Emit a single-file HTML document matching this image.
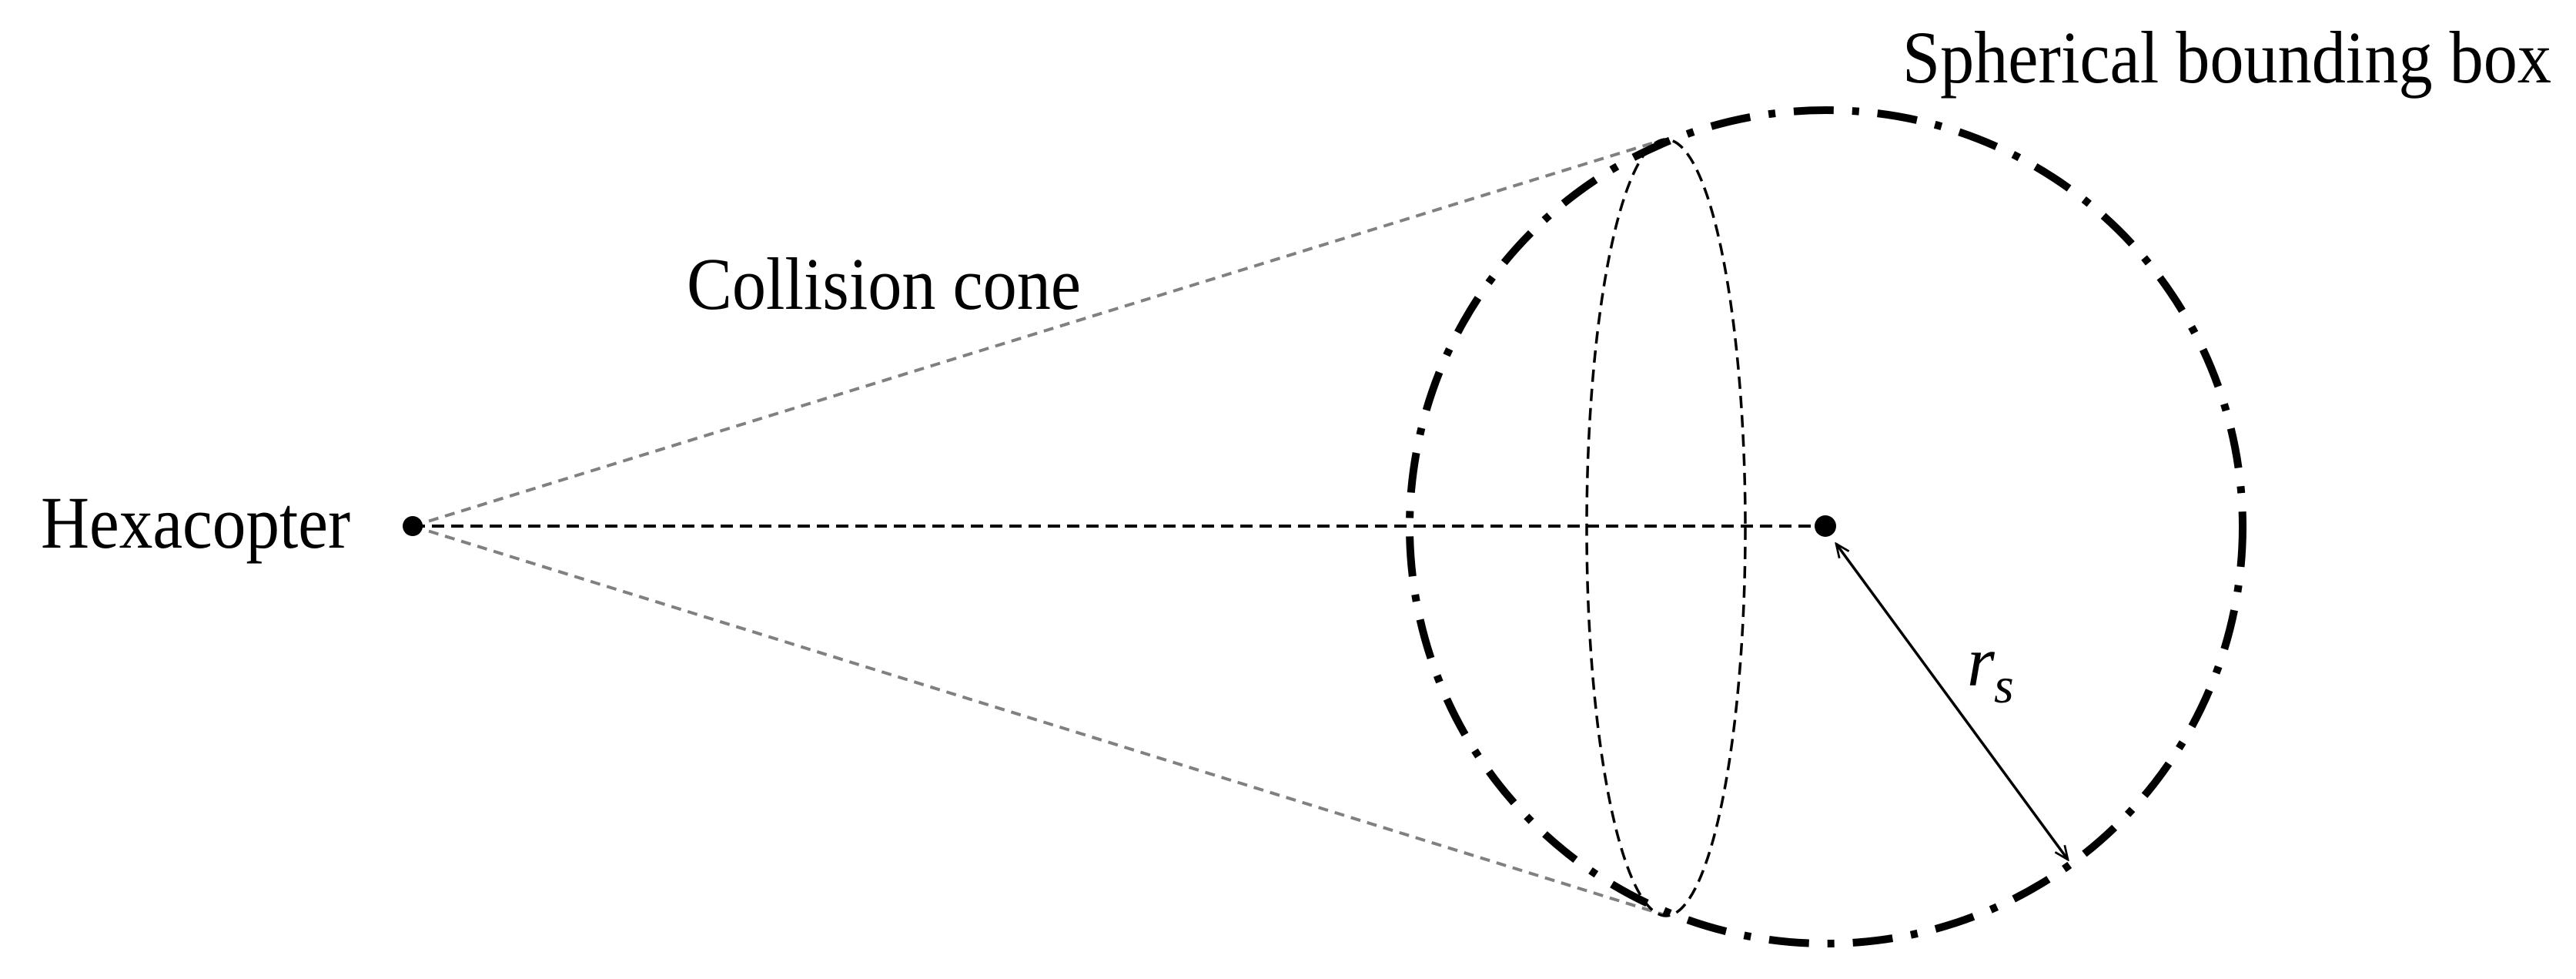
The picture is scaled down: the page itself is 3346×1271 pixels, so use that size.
<!DOCTYPE html>
<html><head><meta charset="utf-8"><style>html,body{margin:0;padding:0;background:#fff;}svg{display:block}</style></head>
<body>
<svg width="3346" height="1271" viewBox="0 0 3346 1271" xmlns="http://www.w3.org/2000/svg">
<defs>
<marker id="ah" viewBox="0 0 20 20" refX="18" refY="10" markerWidth="22" markerHeight="22" orient="auto-start-reverse" markerUnits="userSpaceOnUse">
<path d="M2,3 L18,10 L2,17" fill="none" stroke="#000" stroke-width="2.5"/>
</marker>
</defs>
<g font-family="'Liberation Serif', serif" font-size="96" fill="#000">
<text x="2471" y="107" textLength="843" lengthAdjust="spacingAndGlyphs">Spherical bounding box</text>
<text x="892" y="401" textLength="512" lengthAdjust="spacingAndGlyphs">Collision cone</text>
<text x="53" y="711" textLength="402" lengthAdjust="spacingAndGlyphs">Hexacopter</text>
<text x="2555" y="890" font-style="italic" font-size="92">r</text>
<text x="2590" y="912" font-style="italic" font-size="66">s</text>
</g>
<line x1="536" y1="683" x2="2162" y2="181" stroke="#808080" stroke-width="4" stroke-dasharray="13 9"/>
<line x1="536" y1="683" x2="2166" y2="1189" stroke="#808080" stroke-width="4" stroke-dasharray="13 9"/>
<line x1="536" y1="683" x2="2371" y2="683" stroke="#000" stroke-width="4" stroke-dasharray="16 9"/>
<ellipse cx="2164" cy="685" rx="103" ry="504" fill="none" stroke="#000" stroke-width="3.5" stroke-dasharray="16 9"/>
<circle cx="2372" cy="684" r="541" fill="none" stroke="#000" stroke-width="10" stroke-dasharray="52 24 9 24"/>
<circle cx="536" cy="683" r="13" fill="#000"/>
<circle cx="2371" cy="683" r="14" fill="#000"/>
<line x1="2385" y1="706" x2="2686" y2="1116" stroke="#000" stroke-width="3.5" marker-start="url(#ah)" marker-end="url(#ah)"/>
</svg>
</body></html>
